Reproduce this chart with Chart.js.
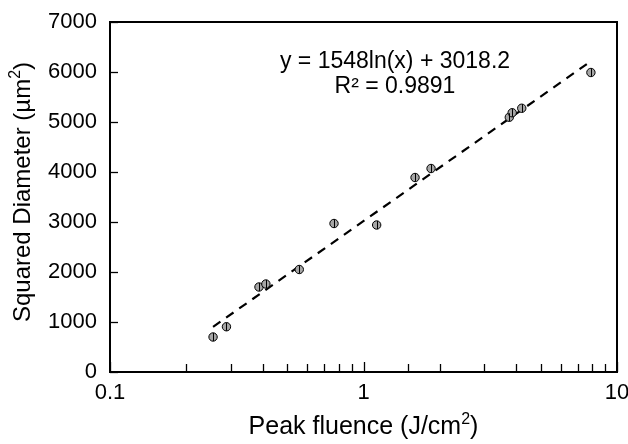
<!DOCTYPE html>
<html>
<head>
<meta charset="utf-8">
<script src="https://cdn.jsdelivr.net/npm/chart.js@4"></script>
<style>
  html, body { margin: 0; padding: 0; background: #fff; }
  #wrap { width: 628px; height: 444px; }
</style>
</head>
<body>
<div id="wrap"><canvas id="chart" width="628" height="444"></canvas></div>
<script>
var fluence = [0.255, 0.288, 0.387, 0.412, 0.558, 0.765, 1.127, 1.597, 1.847, 3.76, 3.86, 4.21, 7.89];
var diameterSq = [700, 905, 1700, 1760, 2050, 2970, 2940, 3890, 4070, 5095, 5185, 5275, 5990];
var errBar = [80, 80, 80, 80, 80, 80, 80, 80, 80, 80, 80, 80, 80];
var fitA = 1548, fitB = 3018.2;
var fitRange = [0.255, 7.6];
var xTickLabels = [0.1, 1, 10];
var eqText = 'y = 1548ln(x) + 3018.2';
var r2Text = 'R² = 0.9891';
// axis titles as [text before superscript, superscript, text after]
var xTitle = ['Peak fluence (J/cm', '2', ')'];
var yTitle = ['Squared Diameter (\u00b5m', '2', ')'];

var FONT = 'Liberation Sans, Arial, sans-serif';

var points = fluence.map(function (x, i) { return { x: x, y: diameterSq[i] }; });
var fitLine = fitRange.map(function (x) { return { x: x, y: fitA * Math.log(x) + fitB }; });

function supText(ctx, parts, size, cx, cy) {
  var big = size + 'px ' + FONT, small = Math.round(size * 0.65) + 'px ' + FONT;
  ctx.font = big;
  var w0 = ctx.measureText(parts[0]).width, w2 = ctx.measureText(parts[2]).width;
  ctx.font = small;
  var w1 = ctx.measureText(parts[1]).width;
  var x = cx - (w0 + w1 + w2) / 2;
  ctx.textAlign = 'left';
  ctx.textBaseline = 'middle';
  ctx.font = big;
  ctx.fillText(parts[0], x, cy);
  ctx.font = small;
  ctx.fillText(parts[1], x + w0, cy - size * 0.3);
  ctx.font = big;
  ctx.fillText(parts[2], x + w0 + w1, cy);
}

// inward ticks, frame, error bars and texts
var extras = {
  id: 'extras',
  beforeDatasetsDraw: function (chart) {
    var ctx = chart.ctx, a = chart.chartArea;
    var xs = chart.scales.x, ys = chart.scales.y;
    ctx.save();
    ctx.strokeStyle = '#000';
    ctx.lineWidth = 1.3;
    xs.ticks.forEach(function (t) {
      var px = Math.round(xs.getPixelForValue(t.value)) + 0.5;
      var major = Math.abs(Math.log10(t.value) - Math.round(Math.log10(t.value))) < 1e-6;
      ctx.beginPath();
      ctx.moveTo(px, a.bottom);
      ctx.lineTo(px, a.bottom - (major ? 10 : 8));
      ctx.stroke();
    });
    ys.ticks.forEach(function (t) {
      var py = Math.round(ys.getPixelForValue(t.value)) + 0.5;
      ctx.beginPath();
      ctx.moveTo(a.left, py);
      ctx.lineTo(a.left + 8, py);
      ctx.stroke();
    });
    ctx.lineWidth = 2;
    ctx.strokeRect(a.left, a.top, a.right - a.left, a.bottom - a.top);
    ctx.restore();
  },
  afterDatasetsDraw: function (chart) {
    var ctx = chart.ctx, a = chart.chartArea;
    var xs = chart.scales.x, ys = chart.scales.y;
    ctx.save();
    ctx.strokeStyle = '#000';
    ctx.lineWidth = 1;
    points.forEach(function (p, i) {
      var px = Math.round(xs.getPixelForValue(p.x)) + 0.5;
      ctx.beginPath();
      ctx.moveTo(px, ys.getPixelForValue(p.y - errBar[i]));
      ctx.lineTo(px, ys.getPixelForValue(p.y + errBar[i]));
      ctx.stroke();
    });
    ctx.fillStyle = '#000';
    ctx.font = '23px ' + FONT;
    ctx.textAlign = 'center';
    ctx.textBaseline = 'middle';
    ctx.fillText(eqText, 395, 62);
    ctx.fillText(r2Text, 395, 87);

    supText(ctx, xTitle, 25, (a.left + a.right) / 2, 427);
    ctx.save();
    ctx.translate(23, 192);
    ctx.rotate(-Math.PI / 2);
    supText(ctx, yTitle, 24, 0, 0);
    ctx.restore();
    ctx.restore();
  }
};

new Chart('chart', {
  type: 'scatter',
  data: {
    datasets: [{
      label: 'Trend',
      data: fitLine,
      showLine: true,
      borderColor: '#000',
      borderWidth: 2.2,
      borderDash: [9, 7],
      pointRadius: 0,
      order: 2
    }, {
      label: 'Measured',
      data: points,
      backgroundColor: '#a6a6a6',
      borderColor: '#000',
      borderWidth: 1,
      pointRadius: 4.2,
      order: 1
    }]
  },
  options: {
    responsive: false,
    animation: false,
    layout: { padding: { left: 0, right: 11, top: 22, bottom: 0 } },
    plugins: {
      legend: { display: false },
      tooltip: { enabled: false }
    },
    scales: {
      x: {
        type: 'logarithmic',
        min: 0.1,
        max: 10,
        grid: { display: false, drawTicks: false },
        border: { display: false },
        afterFit: function (s) { s.height = 72; s.paddingRight = 0; s.paddingLeft = 0; },
        ticks: {
          color: '#000',
          font: { family: FONT, size: 22 },
          padding: 8,
          maxRotation: 0,
          autoSkip: false,
          callback: function (v) {
            return xTickLabels.indexOf(Number(v)) >= 0 ? String(v) : '';
          }
        }
      },
      y: {
        min: 0,
        max: 7000,
        grid: { display: false, drawTicks: false },
        border: { display: false },
        afterFit: function (s) { s.width = 110; s.paddingTop = 0; s.paddingBottom = 0; },
        ticks: {
          stepSize: 1000,
          color: '#000',
          font: { family: FONT, size: 22 },
          padding: 13,
          callback: function (v) { return String(v); }
        }
      }
    }
  },
  plugins: [extras]
});
</script>
</body>
</html>
